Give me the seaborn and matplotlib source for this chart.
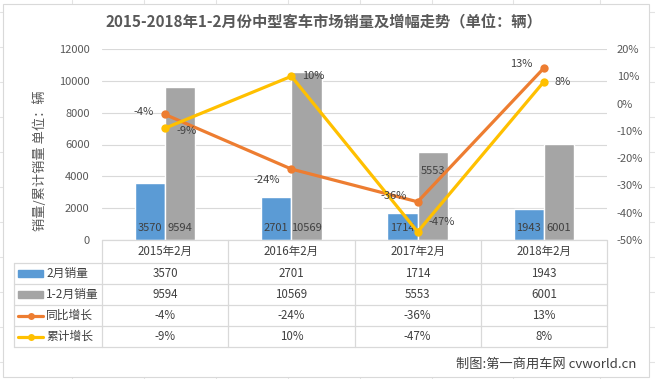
import numpy as np
import pandas as pd
import matplotlib
matplotlib.use('Agg')
import matplotlib.pyplot as plt
import matplotlib.transforms as mtransforms
from matplotlib.lines import Line2D
from matplotlib.patches import Rectangle
import seaborn as sns

# data
categories = ['2015年2月', '2016年2月', '2017年2月', '2018年2月']
feb_sales = [3570, 2701, 1714, 1943]
ytd_sales = [9594, 10569, 5553, 6001]
yoy_growth = [-4, -24, -36, 13]
ytd_growth = [-9, 10, -47, 8]
series_names = ['2月销量', '1-2月销量', '同比增长', '累计增长']

BLUE, GRAY, ORANGE, YELLOW = '#5B9BD5', '#A5A5A5', '#ED7D31', '#FFC000'
TXT = '#595959'
LBL = '#404040'

sns.set_style('white')
plt.rcParams['font.family'] = ['Noto Sans CJK SC', 'DejaVu Sans']
plt.rcParams['axes.unicode_minus'] = False

W, H = 655, 379
fig = plt.figure(figsize=(W / 100, H / 100), dpi=100)


def fx(px):
    return px / W


def fy(py):
    return 1 - py / H


# excel cell grid behind the chart area
for gx in [72, 144, 216, 288, 360, 432, 513, 600]:
    fig.add_artist(Line2D([fx(gx)] * 2, [0, 1], color='#E3E3E3', lw=0.8, zorder=-3))
for gy in [12, 47, 82, 117, 152, 187, 222, 257, 292, 327, 362]:
    fig.add_artist(Line2D([0, 1], [fy(gy)] * 2, color='#E3E3E3', lw=0.8, zorder=-3))
fig.add_artist(Rectangle((fx(3), fy(377)), fx(649) - fx(3), fy(4) - fy(377),
                         facecolor='white', edgecolor='#D9D9D9', lw=0.8, zorder=-2))

ax = fig.add_axes([fx(102), fy(240), fx(607) - fx(102), fy(49) - fy(240)])
ax.patch.set_alpha(0)

df = pd.DataFrame({
    'cat': categories * 2,
    'series': [series_names[0]] * 4 + [series_names[1]] * 4,
    'value': feb_sales + ytd_sales,
})
sns.barplot(data=df, x='cat', y='value', hue='series', palette=[BLUE, GRAY],
            width=0.48, ax=ax, legend=False, saturation=1)

ax.set_ylim(0, 12000)
ax.set_yticks(range(0, 12001, 2000))
ax.set_xlim(-0.5, len(categories) - 0.5)
ax.yaxis.grid(True, color='#D9D9D9', lw=0.8)
ax.set_axisbelow(True)
ax.set_xlabel('')
ax.set_ylabel('')
ax.set_xticks([])
for s in ax.spines.values():
    s.set_visible(False)
ax.tick_params(axis='y', labelsize=8, colors=TXT, length=0, pad=9)

# bar labels sit at the base, except where excel pushed one to the top
for k, cont in enumerate(ax.containers):
    for i, p in enumerate(cont):
        xc = p.get_x() + p.get_width() / 2
        if k == 1 and i == 2:
            ax.annotate(f'{int(p.get_height())}', (xc, p.get_height()),
                        xytext=(0, -10), textcoords='offset points', ha='center',
                        va='top', fontsize=8, color=LBL)
        else:
            ax.annotate(f'{int(p.get_height())}', (xc, 0),
                        xytext=(0, 5), textcoords='offset points', ha='center',
                        va='bottom', fontsize=8, color=LBL)

ax2 = ax.twinx()
xs = np.arange(len(categories))
sns.lineplot(x=xs, y=yoy_growth, ax=ax2, color=ORANGE, lw=2.3, marker='o',
             markersize=6, markeredgewidth=0)
sns.lineplot(x=xs, y=ytd_growth, ax=ax2, color=YELLOW, lw=2.3, marker='o',
             markersize=6, markeredgewidth=0)
ax2.set_ylim(-50, 20)
ax2.set_yticks(range(-50, 21, 10))
ax2.set_yticklabels([f'{v}%' for v in range(-50, 21, 10)])
ax2.tick_params(axis='y', labelsize=8, colors=TXT, length=0, pad=7)
for s in ax2.spines.values():
    s.set_visible(False)
ax2.set_xlim(-0.5, len(categories) - 0.5)

yoy_off = [(-8, 2), (-8, -8), (-8, 4), (-8, 3)]
ytd_off = [(8, -2), (8, 0), (8, 7), (8, 0)]
for i in range(len(categories)):
    ax2.annotate(f'{yoy_growth[i]}%', (xs[i], yoy_growth[i]), xytext=yoy_off[i],
                 textcoords='offset points', ha='right', va='center',
                 fontsize=8, color=LBL)
    ax2.annotate(f'{ytd_growth[i]}%', (xs[i], ytd_growth[i]), xytext=ytd_off[i],
                 textcoords='offset points', ha='left', va='center',
                 fontsize=8, color=LBL)

# data table under the plot
tr = mtransforms.blended_transform_factory(ax.transData, fig.transFigure)
lc = '#D9D9D9'
row_y = [240, 263, 284, 305, 326, 347]
left, right = fx(102), fx(607)
for k, ry in enumerate(row_y):
    x0 = left if k == 0 else fx(14)
    fig.add_artist(Line2D([x0, right], [fy(ry)] * 2, color=lc, lw=0.9))
fig.add_artist(Line2D([fx(14)] * 2, [fy(263), fy(347)], color=lc, lw=0.9))
for b in np.arange(len(categories) + 1) - 0.5:
    ax.add_artist(Line2D([b, b], [fy(240), fy(347)], color=lc, lw=0.9,
                         transform=tr, clip_on=False))

for i, c in enumerate(categories):
    ax.text(i, fy(251.5), c, transform=tr, ha='center', va='center',
            fontsize=8.3, color=LBL)
rows = [[str(v) for v in feb_sales], [str(v) for v in ytd_sales],
        [f'{v}%' for v in yoy_growth], [f'{v}%' for v in ytd_growth]]
for r, vals in enumerate(rows):
    cy = fy((row_y[r + 1] + row_y[r + 2]) / 2)
    for i, v in enumerate(vals):
        ax.text(i, cy, v, transform=tr, ha='center', va='center',
                fontsize=8.3, color=LBL)
    fig.text(fx(46), cy, series_names[r], ha='left', va='center',
             fontsize=8.5, color=LBL)
    if r < 2:
        fig.add_artist(Rectangle((fx(18), cy - 3.5 / H), fx(43) - fx(18), 7 / H,
                                 color=[BLUE, GRAY][r]))
    else:
        colr = [ORANGE, YELLOW][r - 2]
        fig.add_artist(Line2D([fx(18), fx(30.5), fx(43)], [cy, cy, cy], color=colr,
                              lw=2.3, marker='o', markersize=5, markevery=[1],
                              markeredgewidth=0))

fig.text(0.495, fy(22), '2015-2018年1-2月份中型客车市场销量及增幅走势（单位：辆）',
         ha='center', va='center', fontsize=11, fontweight='bold', color=TXT)
fig.text(fx(40), fy(161), '销量/累计销量 单位：辆', rotation=90, ha='center',
         va='center', fontsize=9.5, color=TXT)
fig.text(fx(636), fy(364), '制图:第一商用车网 cvworld.cn', ha='right',
         va='center', fontsize=9.5, color=LBL)

fig.savefig('out.png', dpi=100)
